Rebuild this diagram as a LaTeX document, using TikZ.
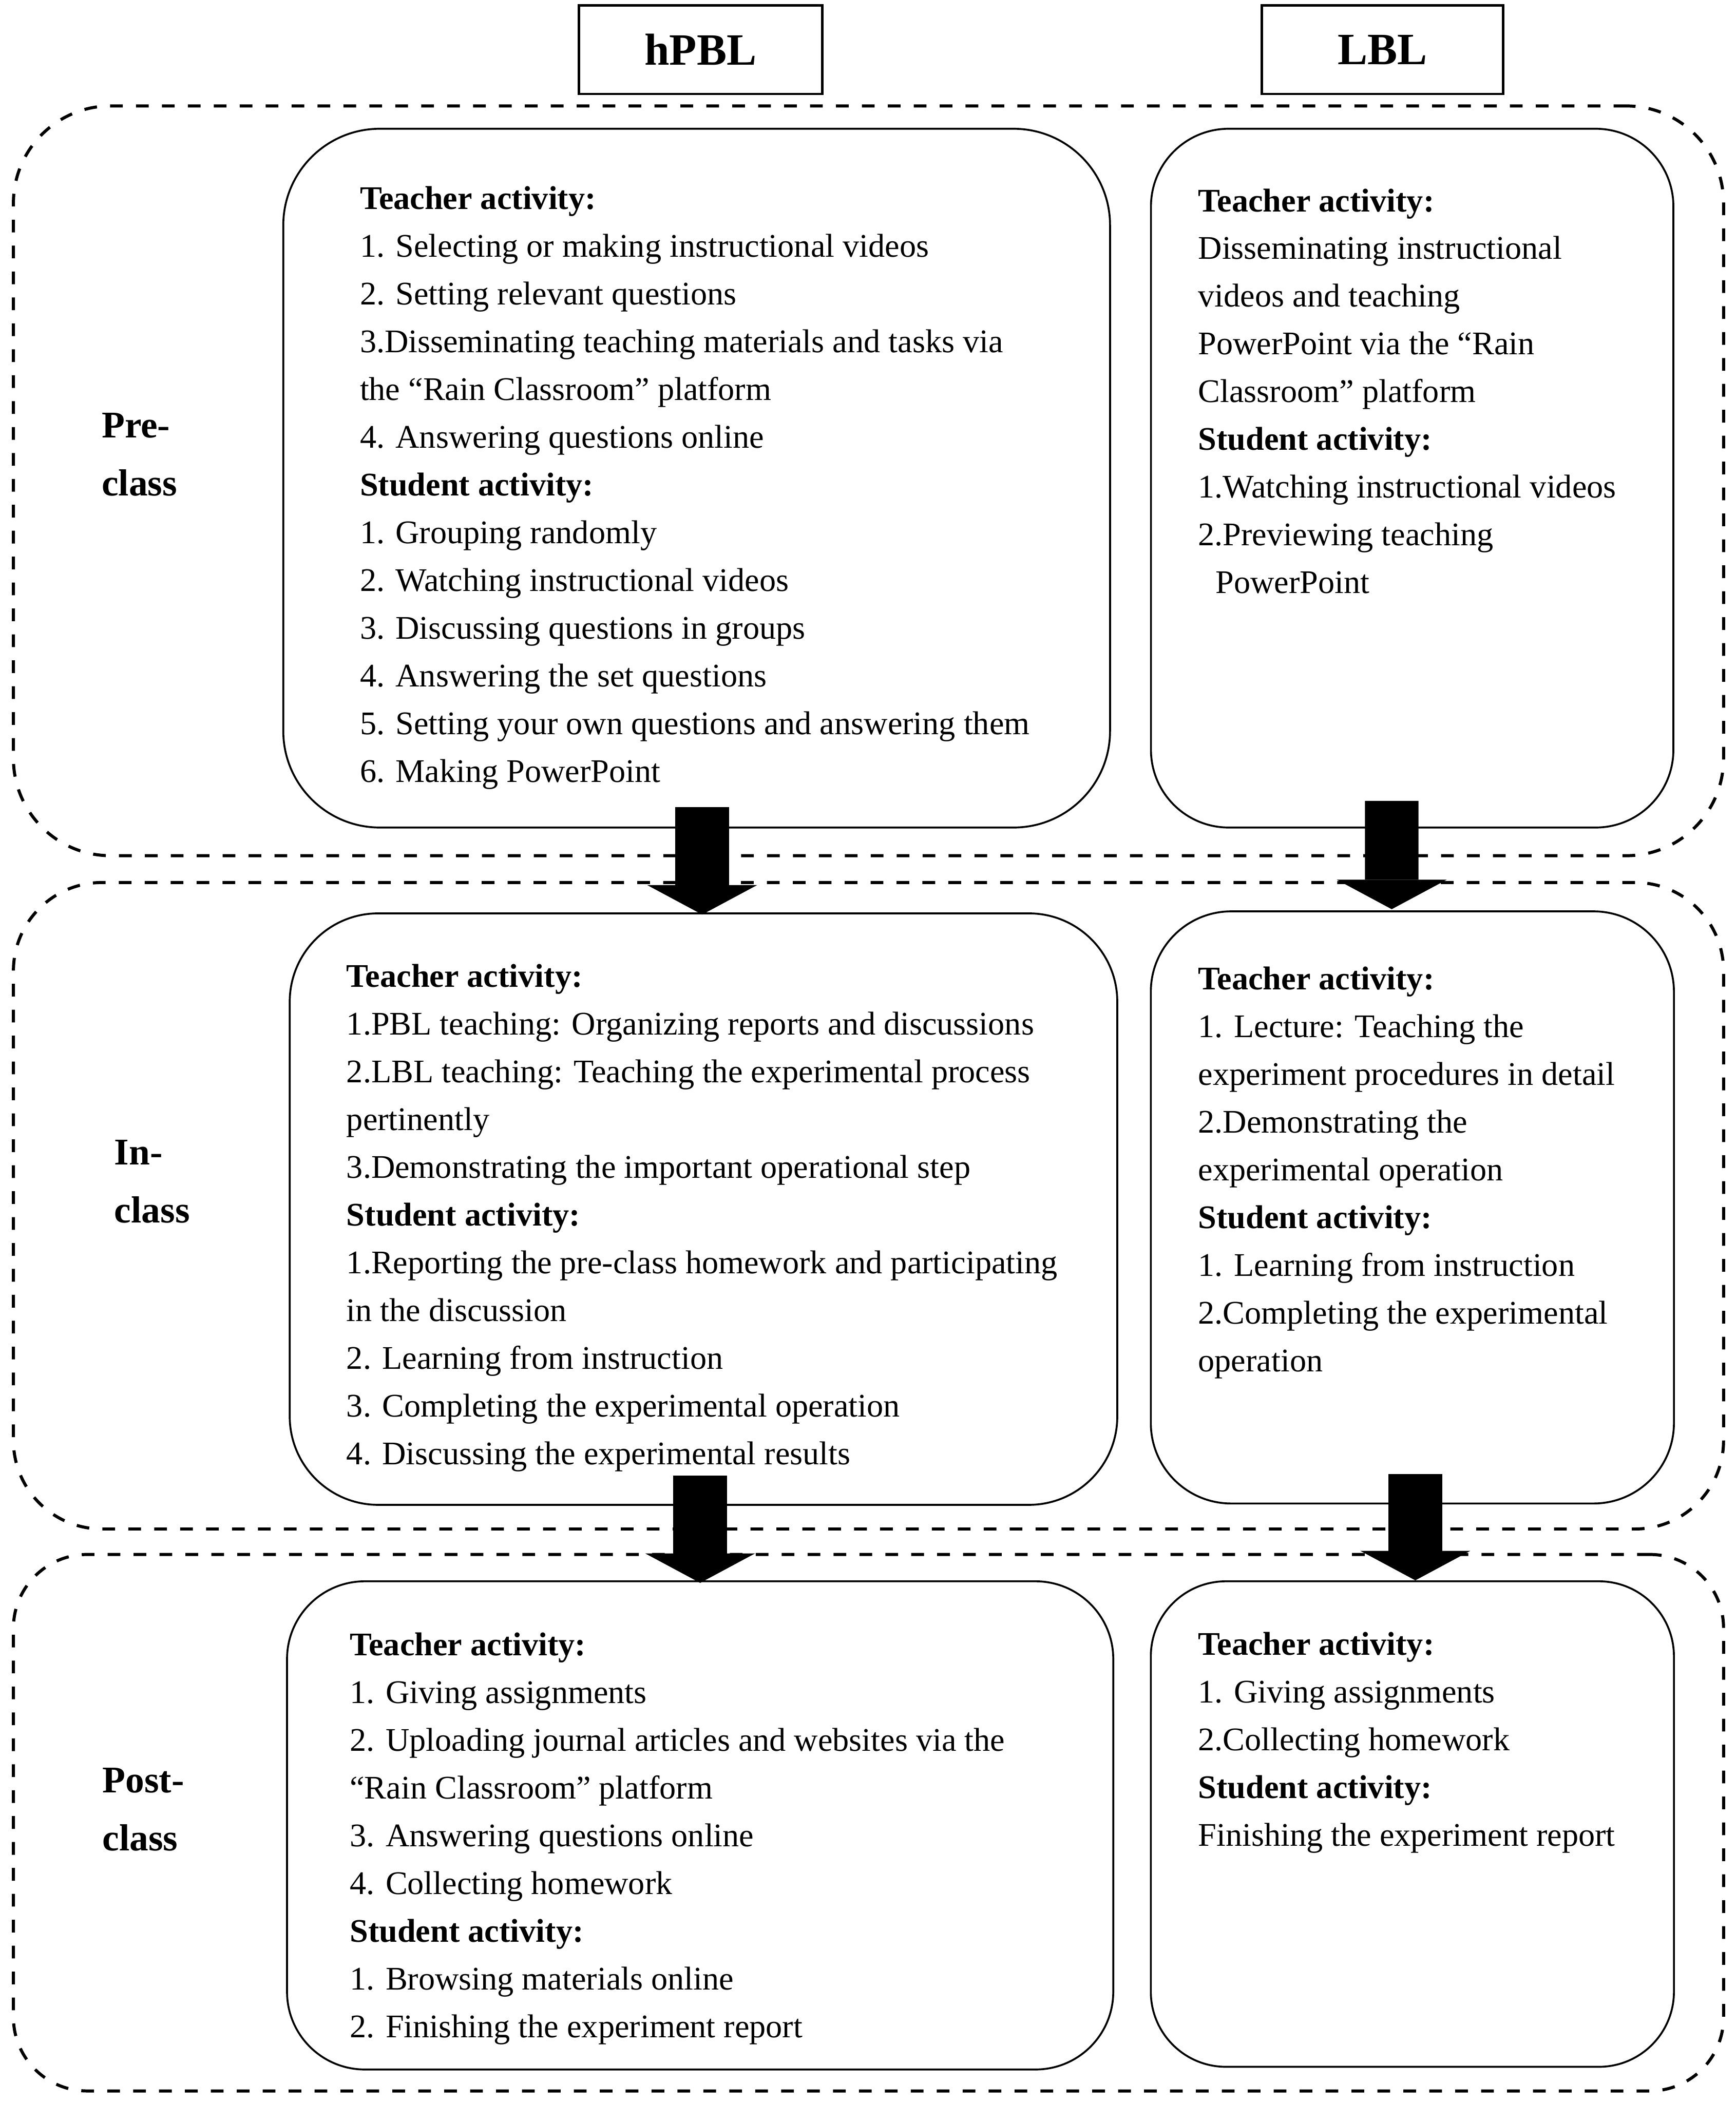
\documentclass[tikz,border=0pt]{standalone}
\usepackage{fontspec}
\setmainfont{Liberation Serif}
\usetikzlibrary{arrows.meta,calc,fit}

\begin{document}
\begin{tikzpicture}[x=0.02cm,y=-0.02cm,
  stage/.style={draw,dash pattern=on 5.4pt off 5.6pt,line width=1.3pt,inner sep=0pt},
  panel/.style={draw,line width=0.8pt,inner sep=0pt},
  head/.style={draw,line width=1pt,inner sep=0pt,minimum height=1.32cm,font=\fontsize{19}{22}\selectfont\bfseries},
  body/.style={anchor=north west,inner sep=0pt,align=left,font=\fontsize{14}{20.26}\selectfont},
  phase/.style={anchor=north west,inner sep=0pt,align=left,font=\fontsize{16}{24.6}\selectfont\bfseries},
  flow/.style={line width=0.8cm,-{Triangle[length=0.44cm,width=1.64cm,line width=0pt]}}]
  \useasboundingbox (0,0) rectangle (1294,1568);

  % column heads
  \node[head,minimum width=3.63cm] (hpbl) at (522.35,37) {hPBL};
  \node[head,minimum width=3.6cm] (lbl) at (1030.7,37) {LBL};

  % stages
  \node[stage,rounded corners=1.45cm,fit={(10,79)(1285,638)}] (stagePre) {};
  \node[stage,rounded corners=1.32cm,fit={(10,658)(1285,1140)}] (stageIn) {};
  \node[stage,rounded corners=1.1cm,fit={(10,1159)(1285,1559)}] (stagePost) {};

  \node[phase] (preLabel) at (75.5,307.7) {Pre-\\class};
  \node[phase] (inLabel) at (85,849.5) {In-\\class};
  \node[phase] (postLabel) at (76,1317.8) {Post-\\class};

  % pre-class
  \node[panel,rounded corners=1.44cm,fit={(211.2,96)(827.6,617)}] (preH) {};
  \node[panel,rounded corners=1.16cm,fit={(858.1,96)(1247.6,617)}] (preL) {};
  \node[body] (preHtext) at (268,138.6) {\textbf{Teacher activity:}\\
    1. Selecting or making instructional videos\\
    2. Setting relevant questions\\
    3.Disseminating teaching materials and tasks via\\
    the “Rain Classroom” platform\\
    4. Answering questions online\\
    \textbf{Student activity:}\\
    1. Grouping randomly\\
    2. Watching instructional videos\\
    3. Discussing questions in groups\\
    4. Answering the set questions\\
    5. Setting your own questions and answering them\\
    6. Making PowerPoint};
  \node[body] (preLtext) at (893,140.3) {\textbf{Teacher activity:}\\
    Disseminating instructional\\
    videos and teaching\\
    PowerPoint via the “Rain\\
    Classroom” platform\\
    \textbf{Student activity:}\\
    1.Watching instructional videos\\
    2.Previewing teaching\\
    \hspace*{0.26cm}PowerPoint};

  % in-class
  \node[panel,rounded corners=1.32cm,fit={(216,681)(833,1122)}] (inH) {};
  \node[panel,rounded corners=1.2cm,fit={(858,679.5)(1248,1121)}] (inL) {};
  \node[body] (inHtext) at (258,718.5) {\textbf{Teacher activity:}\\
    1.PBL teaching: Organizing reports and discussions\\
    2.LBL teaching: Teaching the experimental process\\
    pertinently\\
    3.Demonstrating the important operational step\\
    \textbf{Student activity:}\\
    1.Reporting the pre-class homework and participating\\
    in the discussion\\
    2. Learning from instruction\\
    3. Completing the experimental operation\\
    4. Discussing the experimental results};
  \node[body] (inLtext) at (893,720.5) {\textbf{Teacher activity:}\\
    1. Lecture: Teaching the\\
    experiment procedures in detail\\
    2.Demonstrating the\\
    experimental operation\\
    \textbf{Student activity:}\\
    1. Learning from instruction\\
    2.Completing the experimental\\
    operation};

  % post-class
  \node[panel,rounded corners=1.16cm,fit={(214,1179)(830,1543)}] (postH) {};
  \node[panel,rounded corners=1.12cm,fit={(858,1179)(1248,1541)}] (postL) {};
  \node[body] (postHtext) at (260.5,1217) {\textbf{Teacher activity:}\\
    1. Giving assignments\\
    2. Uploading journal articles and websites via the\\
    “Rain Classroom” platform\\
    3. Answering questions online\\
    4. Collecting homework\\
    \textbf{Student activity:}\\
    1. Browsing materials online\\
    2. Finishing the experiment report};
  \node[body] (postLtext) at (893,1216.5) {\textbf{Teacher activity:}\\
    1. Giving assignments\\
    2.Collecting homework\\
    \textbf{Student activity:}\\
    Finishing the experiment report};

  % flow arrows
  \draw[flow] ($(preH.south)+(4.1,-16)$) -- ($(inH.north)+(-1,1.6)$);
  \draw[flow] ($(preL.south)+(-15.25,-20.6)$) -- ($(inL.north)+(-15.4,-0.9)$);
  \draw[flow] ($(inH.south)+(-2.5,-22.7)$) -- ($(postH.north)+(0,1.9)$);
  \draw[flow] ($(inL.south)+(2.2,-22.6)$) -- ($(postL.north)+(2.2,0)$);
\end{tikzpicture}
\end{document}
